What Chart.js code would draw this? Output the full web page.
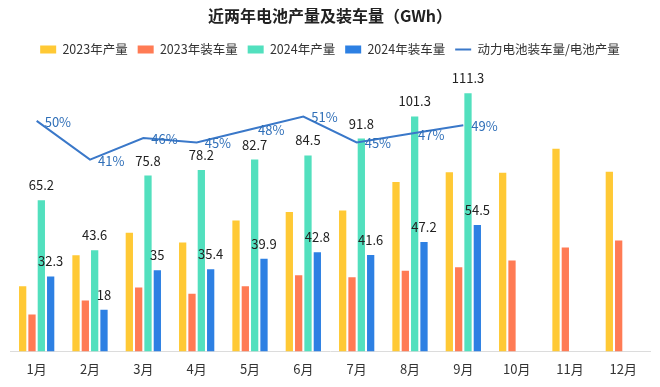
<!DOCTYPE html>
<html>
<head>
<meta charset="utf-8">
<script src="https://cdn.jsdelivr.net/npm/chart.js@4.4.1/dist/chart.umd.min.js"></script>
<style>
  html, body { margin: 0; padding: 0; background: #fff; }
  #wrap { width: 660px; height: 387px; }
</style>
</head>
<body>
<div id="wrap"><canvas id="myChart"></canvas></div>
<script>
// months on the x axis
const months = ['1月', '2月', '3月', '4月', '5月', '6月', '7月', '8月', '9月', '10月', '11月', '12月'];

// 2023 values (no labels in the picture)
const prod2023 = [28.1, 41.5, 51.2, 47.0, 56.5, 60.1, 60.8, 73.1, 77.3, 77.0, 87.4, 77.5];
const inst2023 = [15.9, 21.9, 27.6, 24.9, 28.1, 32.8, 32.0, 34.8, 36.3, 39.2, 44.8, 47.8];

// 2024 values (labelled)
const prod2024 = [65.2, 43.6, 75.8, 78.2, 82.7, 84.5, 91.8, 101.3, 111.3, null, null, null];
const inst2024 = [32.3, 18, 35, 35.4, 39.9, 42.8, 41.6, 47.2, 54.5, null, null, null];

// installed / produced ratio, %
const ratio2024 = [50, 41, 46, 45, 48, 51, 45, 47, 49, null, null, null];

const FONT = '"Noto Sans CJK SC", "Noto Sans", sans-serif';

//value labels for 2024 bars and the ratio line
const labelPlugin = {
  id: 'valueLabels',
  afterDatasetsDraw(chart) {
    const ctx = chart.ctx;
    ctx.save();
    ctx.font = '13px ' + FONT;
    chart.data.datasets.forEach((ds, i) => {
      if (!ds.showLabels) return;
      const meta = chart.getDatasetMeta(i);
      if (meta.hidden) return;
      meta.data.forEach((el, j) => {
        const v = ds.data[j];
        if (v == null) return;
        if (ds.type === 'line') {
          ctx.fillStyle = '#2f6fb8';
          ctx.textAlign = 'left';
          ctx.textBaseline = 'middle';
          ctx.fillText(v + '%', el.x + 8, el.y + 1);
        } else {
          ctx.fillStyle = '#222';
          ctx.textAlign = 'center';
          ctx.textBaseline = 'alphabetic';
          ctx.fillText(String(v), el.x, el.y - 10);
        }
      });
    });
    ctx.restore();
  }
};

const data = {
  labels: months,
  datasets: [
    { type: 'line', label: '动力电池装车量/电池产量', data: ratio2024, yAxisID: 'y1',
      borderColor: '#3a78c9', backgroundColor: '#3a78c9', borderWidth: 2,
      pointRadius: 0, tension: 0, showLabels: true, order: 0 },
    { label: '2023年产量', data: prod2023, backgroundColor: '#ffc935', order: 1 },
    { label: '2023年装车量', data: inst2023, backgroundColor: '#ff7b54', order: 1 },
    { label: '2024年产量', data: prod2024, backgroundColor: '#52e0be', showLabels: true, order: 1 },
    { label: '2024年装车量', data: inst2024, backgroundColor: '#2d80e3', showLabels: true, order: 1 }
  ]
};

const legendOrder = ['2023年产量', '2023年装车量', '2024年产量', '2024年装车量', '动力电池装车量/电池产量'];

const config = {
  type: 'bar',
  data: data,
  options: {
    responsive: false,
    animation: false,
    layout: { padding: { left: 10, right: 10, top: 0, bottom: 0 } },
    datasets: { bar: { categoryPercentage: 0.7, barPercentage: 0.78 } },
    scales: {
      x: {
        grid: { display: false, drawTicks: false },
        border: { display: true, color: '#dcdcdc', width: 1 },
        ticks: { color: '#333', font: { family: FONT, size: 13 }, padding: 10 }
      },
      y: { display: false, min: 0, max: 123.2 },
      y1: { display: false, min: -3.5, max: 62.8 }
    },
    plugins: {
      title: {
        display: true,
        text: '近两年电池产量及装车量（GWh）',
        color: '#222',
        font: { family: FONT, size: 16, weight: 'bold' },
        padding: { top: 6, bottom: 8 }
      },
      legend: {
        position: 'top',
        labels: {
          color: '#333',
          font: { family: FONT, size: 12.5 },
          usePointStyle: true,
          pointStyleWidth: 16,
          boxWidth: 16,
          boxHeight: 8,
          padding: 10,
          generateLabels(chart) {
            const items = Chart.defaults.plugins.legend.labels.generateLabels(chart);
            items.forEach(it => {
              const ds = chart.data.datasets[it.datasetIndex];
              it.pointStyle = ds.type === 'line' ? 'line' : 'rect';
              it.lineWidth = ds.type === 'line' ? 2 : 0;
            });
            items.sort((a, b) => legendOrder.indexOf(a.text) - legendOrder.indexOf(b.text));
            return items;
          }
        }
      },
      tooltip: { enabled: false }
    }
  },
  plugins: [labelPlugin]
};

const canvas = document.getElementById('myChart');
canvas.width = 660;
canvas.height = 387;
const myChart = new Chart(canvas, config);
</script>
</body>
</html>
